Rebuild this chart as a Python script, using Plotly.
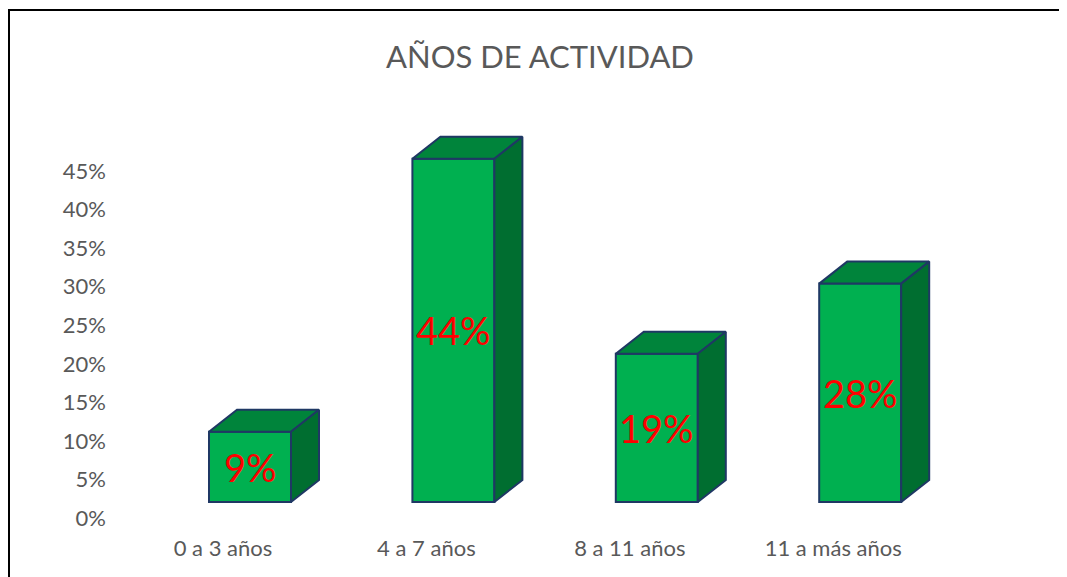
import plotly.graph_objects as go

# ---- data ----
categories = ["0 a 3 años", "4 a 7 años", "8 a 11 años", "11 a más años"]
values = [9, 44, 19, 28]          # percent
labels = ["9%", "44%", "19%", "28%"]
tick_values = [0, 5, 10, 15, 20, 25, 30, 35, 40, 45]
tick_labels = ["0%", "5%", "10%", "15%", "20%", "25%", "30%", "35%", "40%", "45%"]
title_text = "AÑOS DE ACTIVIDAD"

# ---- layout geometry (pixels, page body has an 8px margin) ----
OFF = 8
W, H = 1067 - OFF, 577 - OFF
PL, PR, PT, PB = 107 - OFF, 1040 - OFF, 100 - OFF, 533 - OFF
X0, XSTEP = 250 - OFF, 203.4          # front-centre of first bar, spacing
Y0_BAR, PPU_BAR = 502 - OFF, 7.8       # bar floor, px per %
Y0_AX, PPU_AX = 518 - OFF, 7.71        # axis-label zero, px per %
BAR_W = 82 / XSTEP
DX = 28 / XSTEP
DY = 22 / PPU_BAR
LABEL_SHIFT = -27 / XSTEP

FRONT = "#00B050"
TOP = "#00843B"
SIDE = "#006E30"
EDGE = "#1F3864"
GREY = "#595959"
FONT = "Lato"

xs = list(range(len(categories)))

fig = go.Figure()

fig.add_trace(go.Bar(
    x=xs, y=values, width=BAR_W, yaxis="y2",
    marker=dict(color=FRONT, line=dict(color=EDGE, width=2)),
    hoverinfo="skip", showlegend=False,
))

for x, v in zip(xs, values):
    l, r = x - BAR_W / 2, x + BAR_W / 2
    # top face
    fig.add_trace(go.Scatter(
        x=[l, r, r + DX, l + DX, l], y=[v, v, v + DY, v + DY, v],
        mode="lines", fill="toself", fillcolor=TOP, yaxis="y2",
        line=dict(color=EDGE, width=2), hoverinfo="skip", showlegend=False,
    ))
    # side face
    fig.add_trace(go.Scatter(
        x=[r, r + DX, r + DX, r, r], y=[0, DY, v + DY, v, 0],
        mode="lines", fill="toself", fillcolor=SIDE, yaxis="y2",
        line=dict(color=EDGE, width=2), hoverinfo="skip", showlegend=False,
    ))

# invisible trace so the label axis is drawn
fig.add_trace(go.Scatter(x=[xs[0]], y=[tick_values[0]], yaxis="y", mode="markers",
                         marker=dict(opacity=0), hoverinfo="skip", showlegend=False))

for x, v, t in zip(xs, values, labels):
    fig.add_annotation(x=x, y=v / 2, xref="x", yref="y2", text=t, showarrow=False,
                       font=dict(family=FONT, size=38, color="#FF0000"))

fig.update_layout(
    width=W, height=H,
    margin=dict(l=PL, r=W - PR, t=PT, b=H - PB),
    paper_bgcolor="white", plot_bgcolor="white",
    title=dict(text=title_text, x=(540 - OFF - PL) / (PR - PL), xref="paper", xanchor="center",
               y=1 - (57 - OFF) / H, yanchor="middle",
               font=dict(family=FONT, size=31, color=GREY)),
    xaxis=dict(range=[(PL - X0) / XSTEP, (PR - X0) / XSTEP],
               tickvals=[x + LABEL_SHIFT for x in xs], ticktext=categories,
               showgrid=False, zeroline=False, showline=False, ticks="",
               tickfont=dict(family=FONT, size=22, color=GREY)),
    yaxis=dict(range=[(Y0_AX - PB) / PPU_AX, (Y0_AX - PT) / PPU_AX],
               tickvals=tick_values, ticktext=tick_labels,
               showgrid=False, zeroline=False, showline=False, ticks="",
               tickfont=dict(family=FONT, size=22, color=GREY)),
    yaxis2=dict(range=[(Y0_BAR - PB) / PPU_BAR, (Y0_BAR - PT) / PPU_BAR],
                overlaying="y", visible=False),
    font=dict(family=FONT),
)

# chart border (top and left edges visible in the frame)
ph = PB - PT
pw = PR - PL
fig.add_shape(type="line", xref="paper", yref="paper",
              x0=(0 - PL) / pw, x1=(W + 5 - PL) / pw,
              y0=(PB - (10 - OFF)) / ph, y1=(PB - (10 - OFF)) / ph,
              line=dict(color="black", width=2))
fig.add_shape(type="line", xref="paper", yref="paper",
              x0=(1 - PL) / pw, x1=(1 - PL) / pw,
              y0=(PB - (10 - OFF)) / ph, y1=(PB - H - 5) / ph,
              line=dict(color="black", width=2))

fig.write_html("out.html")
